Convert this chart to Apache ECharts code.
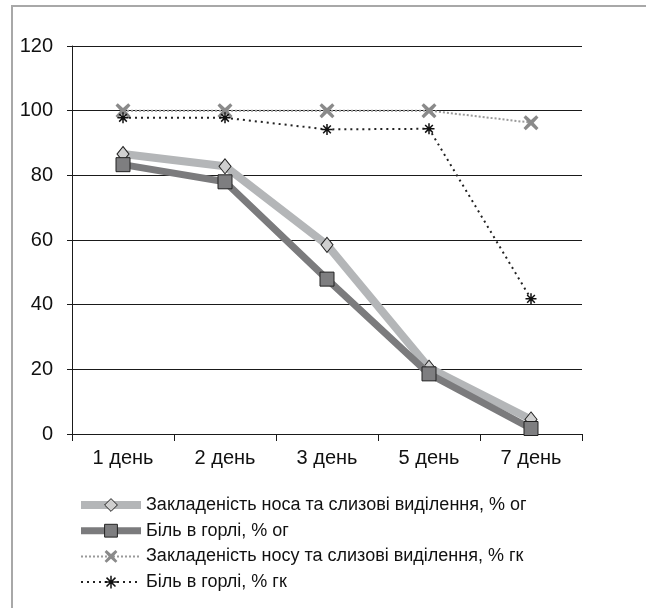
<!DOCTYPE html>
<html>
<head>
<meta charset="utf-8">
<script src="https://cdn.jsdelivr.net/npm/echarts@6/dist/echarts.min.js"></script>
<style>
  html, body { margin: 0; padding: 0; background: #fff; }
  #chart { width: 646px; height: 608px; }
</style>
</head>
<body>
<div id="chart"></div>
<script>
// Symptom dynamics by day (%)
const days = ['1 день', '2 день', '3 день', '5 день', '7 день'];
const yTicks = [0, 20, 40, 60, 80, 100, 120];

const names = [
  'Закладеність носа та слизові виділення, % ог',
  'Біль в горлі, % ог',
  'Закладеність носу та слизові виділення, % гк',
  'Біль в горлі, % гк'
];

const noseMain = [86.6, 82.8, 58.5, 20.5, 4.5];
const throatMain = [83.3, 78, 47.9, 18.6, 1.7];
const noseControl = [100, 100, 100, 100, 96.3];
const throatControl = [97.8, 97.8, 94.2, 94.4, 41.8];

const FONT = '"Liberation Sans", Arial, sans-serif';

// Thick X and thin asterisk marker shapes
const xShape = 'path://M1.5,0 L5,3.2 L8.5,0 L10,1.5 L6.8,5 L10,8.5 L8.5,10 L5,6.8 L1.5,10 L0,8.5 L3.2,5 L0,1.5 Z';
const starShape = 'path://M5,0 L5,10 M0,5 L10,5 M1.5,1.5 L8.5,8.5 M8.5,1.5 L1.5,8.5';

const styles = [
  {
    symbol: 'diamond', symbolSize: [12, 15],
    lineStyle: { color: '#b4b6b8', width: 8 },
    itemStyle: { color: '#cfcfcf', borderColor: '#222', borderWidth: 1 }
  },
  {
    symbol: 'rect', symbolSize: 14,
    lineStyle: { color: '#7b7b7d', width: 7 },
    itemStyle: { color: '#7e7e80', borderColor: '#222', borderWidth: 1 }
  },
  {
    symbol: xShape, symbolSize: 15,
    lineStyle: { color: '#9a9a9a', width: 2, type: [2, 2] },
    itemStyle: { color: '#8a8a8a', borderWidth: 0 }
  },
  {
    symbol: starShape, symbolSize: 11,
    lineStyle: { color: '#222', width: 2, type: [2, 4] },
    itemStyle: { color: 'rgba(0,0,0,0)', borderColor: '#111', borderWidth: 1.5 }
  }
];

const values = [noseMain, throatMain, noseControl, throatControl];

const chart = echarts.init(document.getElementById('chart'), null, { renderer: 'canvas' });

chart.setOption({
  backgroundColor: '#ffffff',
  animation: false,
  graphic: [{
    type: 'rect',
    shape: { x: 12, y: 6, width: 640, height: 620 },
    style: { fill: 'none', stroke: '#a8a8a8', lineWidth: 2 },
    z: -1
  }],
  grid: { left: 72, right: 64, top: 46, bottom: 174, containLabel: false },
  xAxis: {
    type: 'category',
    data: days,
    boundaryGap: true,
    axisLine: { lineStyle: { color: '#1a1a1a', width: 1 } },
    axisTick: { show: true, length: 7, lineStyle: { color: '#1a1a1a' } },
    axisLabel: { color: '#111', fontSize: 20, fontFamily: FONT, margin: 14 },
    splitLine: { show: false }
  },
  yAxis: {
    type: 'value',
    min: yTicks[0],
    max: yTicks[yTicks.length - 1],
    interval: 20,
    axisLine: { show: true, lineStyle: { color: '#1a1a1a', width: 1 } },
    axisTick: { show: true, length: 5, lineStyle: { color: '#1a1a1a' } },
    axisLabel: { color: '#111', fontSize: 20, fontFamily: FONT, margin: 19 },
    splitLine: { show: true, lineStyle: { color: '#1a1a1a', width: 1.2 } }
  },
  legend: {
    orient: 'vertical',
    left: 72,
    top: 491,
    itemWidth: 60,
    itemHeight: 16,
    itemGap: 7.7,
    textStyle: { color: '#111', fontSize: 18, fontFamily: FONT },
    data: names.map((n, i) => ({
      name: n,
      lineStyle: styles[i].lineStyle,
      itemStyle: styles[i].itemStyle
    }))
  },
  series: names.map((n, i) => ({
    name: n,
    type: 'line',
    data: values[i],
    symbol: styles[i].symbol,
    symbolSize: styles[i].symbolSize,
    lineStyle: styles[i].lineStyle,
    itemStyle: styles[i].itemStyle,
    z: 2 + i
  }))
});
</script>
</body>
</html>
